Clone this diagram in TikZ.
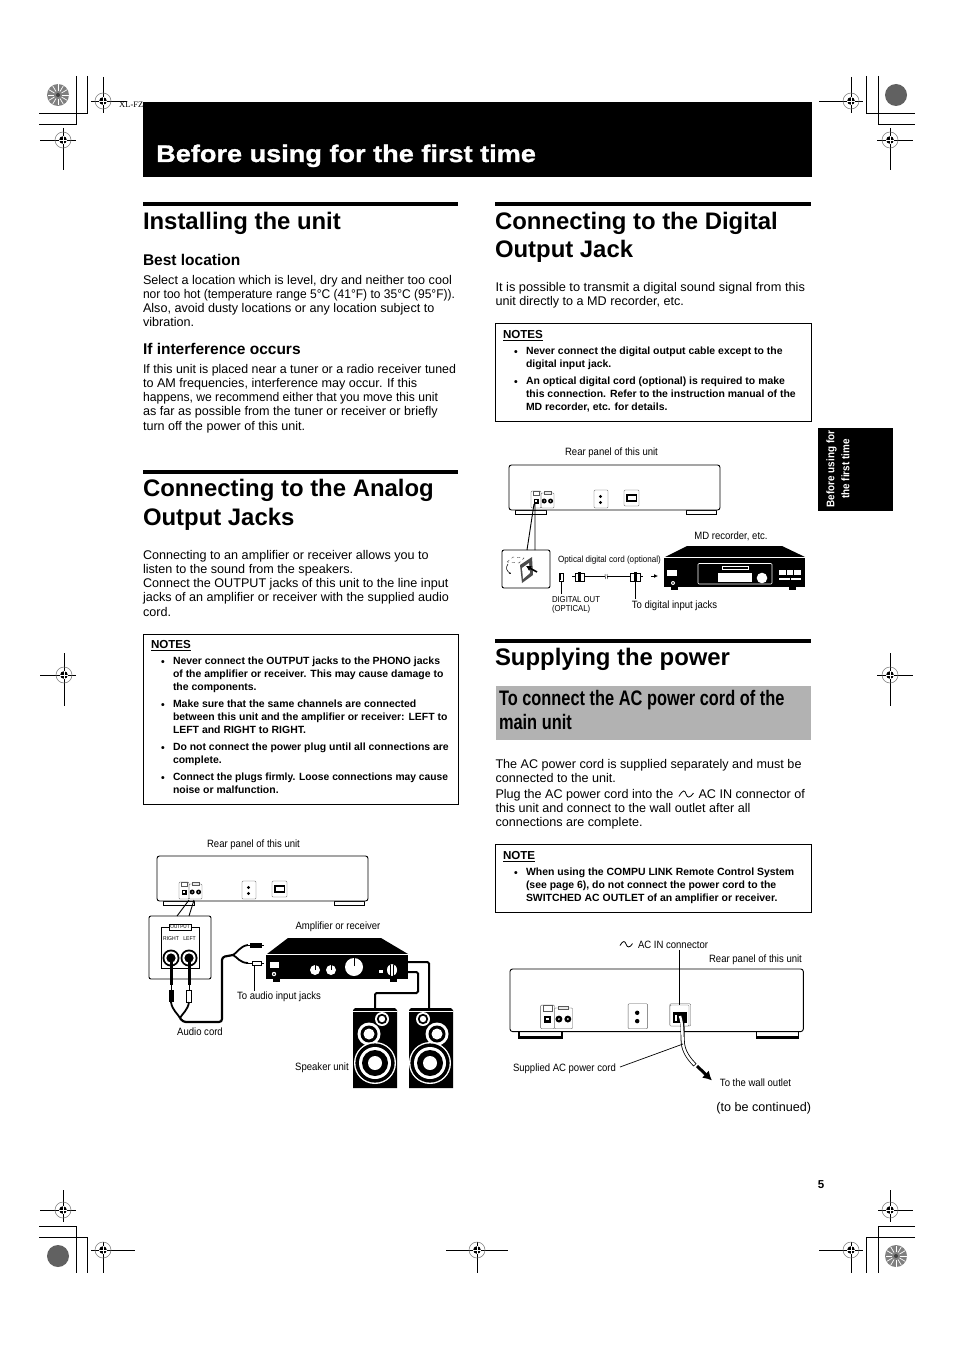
\documentclass[tikz,border=0pt]{standalone}
\usepackage{fontspec}
\usepackage{graphicx}
\usetikzlibrary{arrows.meta}
\setmainfont{Liberation Sans}
\newfontfamily\labfont[FakeStretch=0.9]{Liberation Sans}
\newfontfamily\condb[FakeStretch=0.78,UprightFont=* Bold]{Liberation Sans}
\newfontfamily\wideb[FakeStretch=1.13,FakeBold=1.2,UprightFont=* Bold]{Liberation Sans}
\newcommand\fsz[2]{\fontsize{#1}{#2}\selectfont}
\tikzset{
 x=1pt,y=-1pt,
 txt/.style={inner sep=0pt,outer sep=0pt,anchor=north west,align=left},
 bodytxt/.style={txt,font=\fsz{12.6}{14.3}},
 notetxt/.style={txt,yshift=-0.8pt,font=\fsz{10.45}{13}\bfseries},
 bullettxt/.style={inner sep=0pt,yshift=-0.8pt,font=\fsz{10.45}{13}\bfseries},
 notehead/.style={txt,yshift=-0.8pt,font=\fsz{11.6}{13}\bfseries},
 secttl/.style={txt,font=\fsz{23.9}{28.8}\bfseries},
 subttl/.style={txt,font=\fsz{15.5}{16}\bfseries},
 lab/.style={inner sep=0pt,outer sep=0pt,font=\labfont\fsz{10.6}{9.5},align=left},
 rule/.style={fill=black,draw=none},
 thinbox/.style={draw=black,line width=0.7pt,fill=none},
 cross/.style={line width=0.8pt,black},
 leader/.style={line width=0.7pt,black},
 cordline/.style={line width=2pt,black},
 crop/.style={line width=0.9pt,black},
}
\newcommand\regmark[6]{% x y hleft hright vtop vbottom
 \draw[cross] (#1-#3,#2) -- (#1+#4,#2);
 \draw[cross] (#1,#2-#5) -- (#1,#2+#6);
 \draw[line width=0.5pt,black!55] (#1,#2) circle (8pt);
 \fill[black] (#1,#2) circle (3.8pt);
 \draw[line width=0.4pt,white] (#1-4,#2) -- (#1+4,#2) (#1,#2-4) -- (#1,#2+4);
}
\newcommand\platedisc[2]{%
 \fill[black!62] (#1,#2) circle (11pt);
}
\newcommand\gear[2]{%
 \fill[black!50] (#1,#2) circle (11pt);
 \foreach \a in {0,30,...,330}{\draw[white,line width=0.7pt] (#1,#2) ++(\a:4pt) -- ++(\a:6.5pt);}
 \fill[black!75] (#1,#2) circle (2pt);
}
\newcommand\rearpanel[3]{%
 \begin{scope}[shift={(#1,#2)},scale=#3]
 \fill[black] (6,45) rectangle (38,50);
 \fill[white] (7,45.5) rectangle (37,48.5);
 \fill[black] (177,45) rectangle (208,50);
 \fill[white] (178,45.5) rectangle (207,48.5);
 \draw[line width=0.9pt,rounded corners=2.5pt,fill=white] (0,0) rectangle (211,45);
 \draw[line width=0.35pt,black!65,rounded corners=1pt] (22,26) rectangle (32,43);
 \draw[line width=0.35pt,black!65,rounded corners=1pt] (32,28) rectangle (45,43);
 \draw[line width=0.35pt,black!65] (24,26) rectangle (30,30) (35,26.5) rectangle (42,29);
 \fill[black] (24.5,33.5) rectangle (29.5,38.5);
 \fill[white] (26,35) rectangle (28,37);
 \fill[black] (35.2,36) circle (2.5pt) (41.6,36) circle (2.5pt);
 \fill[white] (35.2,36) circle (0.7pt) (41.6,36) circle (0.7pt);
 \draw[line width=0.35pt,black!65,rounded corners=1pt] (85,25) rectangle (99,43);
 \fill[black] (91.5,31.5) circle (1.6pt) (91.5,37.5) circle (1.6pt);
 \draw[line width=0.35pt,black!65,rounded corners=1pt] (115,25) rectangle (130,41);
 \fill[black] (117,29) rectangle (128,37);
 \fill[white] (118.5,31) rectangle (126.5,35);
 \end{scope}
}
\newcommand\speaker[4]{% x0 tweeterx midx wooferx
 \fill[black] (#1,1010) -- (#1+2,1008) -- (#1+42,1008) -- (#1+44,1010) -- (#1+44,1088) -- (#1,1088) -- cycle;
 \draw[white,line width=0.4pt] (#1,1011) -- (#1+44,1011);
 \fill[white] (#2,1019) circle (7pt); \fill[black] (#2,1019) circle (5.2pt); \fill[white] (#2,1019) circle (3.2pt);
 \fill[white] (#3,1034) circle (11.5pt); \fill[black] (#3,1034) circle (8.5pt); \fill[white] (#3,1034) circle (5.5pt);
 \fill[white] (#4,1063) circle (21pt); \fill[black] (#4,1063) circle (19.6pt); \fill[white] (#4,1063) circle (16pt); \fill[black] (#4,1063) circle (13pt); \fill[white] (#4,1063) circle (7pt);
}
\begin{document}
\begin{tikzpicture}
\useasboundingbox (0,0) rectangle (954,1351);
\fill[white] (0,0) rectangle (954,1351);
% crop marks
\draw[crop] (76.5,76) -- (76.5,124) -- (39,124) (87,76) -- (87,113) -- (39,113);
\draw[crop] (866,76) -- (866,113) -- (915,113) (878.5,76) -- (878.5,124) -- (915,124);
\draw[crop] (39,1226) -- (76.5,1226) -- (76.5,1273) (39,1237) -- (87,1237) -- (87,1273);
\draw[crop] (915,1226) -- (878.5,1226) -- (878.5,1273) (915,1237) -- (866,1237) -- (866,1273);
\gear{58}{95}\platedisc{896}{95}\platedisc{58}{1256}\gear{896}{1256}
\regmark{103}{101}{12}{24}{24}{12}
\regmark{63}{140}{23}{13}{12}{30}
\regmark{851}{101}{32}{12}{24}{12}
\regmark{890}{140}{13}{23}{12}{30}
\regmark{63}{1210}{23}{13}{20}{12}
\regmark{890}{1210}{12}{23}{20}{12}
\regmark{103}{1250}{12}{32}{8}{23}
\regmark{851}{1250}{32}{12}{8}{23}
\regmark{477}{1250}{31}{31}{8}{23}
\regmark{64}{675}{24}{12}{22}{31}
\regmark{890}{675}{13}{23}{22}{31}
\node[inner sep=0pt,anchor=west,font=\fontspec{Liberation Serif}\fsz{8.5}{9}] (xl) at (119,105) {XL-FZ};
% title bar
\fill[black] (143,102) rectangle (812,177);
\node[inner sep=0pt,anchor=base west,text=white,font=\wideb\fsz{24}{28}] (title) at (156,162) {Before using for the first time};
% side tab
\fill[black] (818,428) rectangle (893,511);
\node[inner sep=0pt,rotate=90,text=white,align=center,font=\labfont\fsz{11}{15}\bfseries] (tab) at (838,469) {Before using for\\the first time};
% rules
\fill[rule] (143,202) rectangle (458,205.5);
\fill[rule] (495,202) rectangle (811,205.5);
\fill[rule] (143,470) rectangle (458,473.5);
\fill[rule] (495,639) rectangle (811,642.5);
% left column
\node[secttl] (h1) at (143,209) {\strut Installing the unit};
\node[subttl] (h1a) at (143,254) {\strut Best location};
\node[bodytxt] (p1) at (143,274) {\strut Select a location which is level, dry and neither too cool\\\resizebox{312pt}{\height}{nor too hot (temperature range 5°C (41°F) to 35°C (95°F)).}\\Also, avoid dusty locations or any location subject to\\vibration.};
\node[subttl] (h1b) at (143,343) {\strut If interference occurs};
\node[bodytxt] (p2) at (143,363) {\strut\resizebox{313pt}{\height}{If this unit is placed near a tuner or a radio receiver tuned}\\to AM frequencies, interference may occur. If this\\\resizebox{295pt}{\height}{happens, we recommend either that you move this unit}\\as far as possible from the tuner or receiver or briefly\\turn off the power of this unit.};
\node[secttl] (h2) at (143,476.5) {\strut Connecting to the Analog\\Output Jacks};
\node[bodytxt] (p3) at (143,549) {\strut Connecting to an amplifier or receiver allows you to\\listen to the sound from the speakers.\\Connect the OUTPUT jacks of this unit to the line input\\jacks of an amplifier or receiver with the supplied audio\\cord.};
\draw[thinbox] (143.5,634.5) rectangle (458.5,804);
\node[notehead] (n1) at (151,639) {\strut\underline{NOTES}};
\node[notetxt] (n1a) at (173,655) {\strut Never connect the OUTPUT jacks to the PHONO jacks\\of the amplifier or receiver. This may cause damage to\\the components.};
\node[notetxt] (n1b) at (173,698) {\strut Make sure that the same channels are connected\\between this unit and the amplifier or receiver: LEFT to\\LEFT and RIGHT to RIGHT.};
\node[notetxt] (n1c) at (173,741) {\strut Do not connect the power plug until all connections are\\complete.};
\node[notetxt] (n1d) at (173,771) {\strut\resizebox{275pt}{\height}{Connect the plugs firmly. Loose connections may cause}\\noise or malfunction.};
\node[bullettxt] (b1) at (163,662.5) {•};\node[bullettxt] (b2) at (163,705.5) {•};\node[bullettxt] (b3) at (163,748.5) {•};\node[bullettxt] (b4) at (163,778.5) {•};
% right column
\node[secttl] (h3) at (495,209) {\strut Connecting to the Digital\\Output Jack};
\node[bodytxt] (p4) at (495.5,281) {\strut\resizebox{309.5pt}{\height}{It is possible to transmit a digital sound signal from this}\\unit directly to a MD recorder, etc.};
\draw[thinbox] (495.5,323.5) rectangle (811.5,421);
\node[notehead] (n2) at (503,329) {\strut\underline{NOTES}};
\node[notetxt] (n2a) at (526,345) {\strut Never connect the digital output cable except to the\\digital input jack.};
\node[notetxt] (n2b) at (526,375) {\strut An optical digital cord (optional) is required to make\\this connection. Refer to the instruction manual of the\\MD recorder, etc. for details.};
\node[bullettxt] (b5) at (516,352.5) {•};\node[bullettxt] (b6) at (516,382.5) {•};
\node[secttl] (h4) at (495,645) {\strut Supplying the power};
\fill[black!30] (496,686) rectangle (811,740);
\node[txt,font=\condb\fsz{21}{24}] (h4a) at (499,689) {\strut To connect the AC power cord of the\\main unit};
\node[bodytxt] (p5) at (495.5,758) {\strut The AC power cord is supplied separately and must be\\connected to the unit.};
\node[bodytxt] (p5a) at (495.5,788) {\strut Plug the AC power cord into the\\this unit and connect to the wall outlet after all\\connections are complete.};
\node[bodytxt] (p5b) at (698.5,788) {\strut AC IN connector of};
\draw[line width=0.8pt] (679,796.5) .. controls (683,789) and (685,790) .. (686,794) .. controls (687,798) and (690,798.5) .. (693.5,793);
\draw[thinbox] (495.5,844.5) rectangle (811.5,912);
\node[notehead] (n3) at (503,850) {\strut\underline{NOTE}};
\node[notetxt] (n3a) at (526,866) {\strut When using the COMPU LINK Remote Control System\\(see page 6), do not connect the power cord to the\\SWITCHED AC OUTLET of an amplifier or receiver.};
\node[bullettxt] (b7) at (516,873.5) {•};
\node[bodytxt,anchor=north east] (cont) at (811,1101) {\strut (to be continued)};
\node[inner sep=0pt,font=\fsz{11.5}{13}\bfseries] (pg) at (821,1185) {5};
% ---------- analog diagram
\rearpanel{157}{856}{1}
\node[lab] (l1) at (253.5,845) {Rear panel of this unit};
\draw[line width=0.9pt,rounded corners=2pt,fill=white] (149,916) rectangle (211,979);
\coordinate (ia) at (177,916);\coordinate (ib) at (189,916);\coordinate (oa) at (189,900);\coordinate (ob) at (194,900);
\draw[leader,line width=0.9pt] (ia) -- (oa) (ib) -- (ob);
\draw[line width=0.5pt] (169,927) -- (161,927) -- (161,968) (161,968) -- (199,968) -- (199,927) -- (191,927);
\node[draw,line width=0.5pt,inner xsep=1.6pt,inner ysep=1pt,fill=white,font=\labfont\fsz{5.2}{6}] (ob1) at (180,927) {OUTPUT};
\node[lab,font=\labfont\fsz{5.6}{6}] (rt) at (171,939) {RIGHT};
\node[lab,font=\labfont\fsz{5.6}{6}] (lt) at (189.5,939) {LEFT};
\foreach \x in {171,189}{
 \fill[black] (\x,958) circle (8.5pt); \fill[white] (\x,958) circle (6.6pt); \fill[black] (\x,958) circle (4.6pt);
}
\draw[line width=3pt] (171,958) -- (171,985) (189,958) -- (189,985);
\draw[line width=0.5pt] (171,985) -- (171,990) (189,985) -- (189,990);
\fill[black] (168.5,990) rectangle (173.5,1002);
\draw[line width=0.6pt,fill=white] (186.5,990) rectangle (191.5,1002);
\coordinate (cjoin) at (180,1018);
\draw[line width=1.8pt,black] (171,1002) .. controls (172,1010) and (178,1014) .. (cjoin);
\draw[line width=1.8pt,black] (189,1002) .. controls (188,1010) and (182,1014) .. (cjoin);
\draw[line width=2.2pt,black,rounded corners=3pt] (cjoin) -- (183,1022) -- (222,1022) -- (222,957) -- (233,955);
\draw[line width=1.8pt,black] (233,955) .. controls (237,953) and (240,946) .. (248,945);
\draw[line width=1.8pt,black] (233,955) .. controls (237,957) and (240,963) .. (248,963);
\draw[line width=0.6pt] (248,945) -- (252,945) (248,963) -- (253,963) (261,963) -- (264,963) (262,945) -- (264,945);
\fill[black] (250,943) rectangle (262,947.5);
\draw[line width=0.6pt,fill=white] (252,961) rectangle (261,965.5);
\coordinate (t1) at (254.5,965.5);\coordinate (t2) at (254.5,991);
\draw[leader] (t1) -- (t2);
\node[lab] (l2) at (279,997) {To audio input jacks};
\node[lab] (l3) at (200,1032) {Audio cord};
% amp
\fill[black] (267,954) -- (288,938) -- (381,938) -- (408,954) -- cycle;
\fill[black] (266,954) rectangle (408,979);
\draw[white,line width=0.5pt] (266,954.5) -- (408,954.5);
\fill[black] (273,979) rectangle (280,982); \fill[black] (390,979) rectangle (397,982);
\fill[white] (270,962) rectangle (279,967.5);
\fill[white] (274,974) circle (2.2pt); \fill[black] (274,974) circle (1pt);
\fill[white] (315,970) circle (5pt) (331,970) circle (5pt) (354,967) circle (9pt);
\draw[black,line width=0.5pt] (315,970) -- (315,965) (331,970) -- (331,965) (354,966) -- (354,958);
\fill[white] (379,969.5) rectangle (382.5,973);
\fill[white] (392,970) ellipse (5pt and 6pt);
\draw[black,line width=1pt] (390.5,964.5) -- (390.5,975.5) (393.5,964.5) -- (393.5,975.5);
\node[lab] (l4) at (338,927) {Amplifier or receiver};
% speaker wires
\coordinate (wa) at (408,962);\coordinate (wb) at (408,972);
\draw[cordline,rounded corners=1.5pt] (wa) -- (429,962) -- (429,1010);
\draw[cordline,rounded corners=1.5pt] (wb) -- (418,972) -- (418,993) -- (375,993) -- (375,1010);
\speaker{353}{382}{369}{375}
\speaker{409}{423}{437}{430}
\node[lab] (l5) at (322,1067.5) {Speaker unit};
% ---------- digital diagram
\rearpanel{509}{465}{1}
\node[lab] (l6) at (611.5,453) {Rear panel of this unit};
\draw[line width=0.9pt,rounded corners=2pt,fill=white] (502,550) rectangle (550,588);
\coordinate (da) at (527,550);\coordinate (db) at (535,550);\coordinate (dc) at (534,504);\coordinate (dd) at (535,504);
\draw[line width=0.9pt] (da) -- (dc) (db) -- (dd);
% optical jack sketch
\draw[line width=0.4pt,black!70,dashed] (507,562) -- (513,557) -- (524,558) -- (519,563) -- cycle;
\fill[black!70] (520,565) -- (532,557) -- (533,575) -- (522,583) -- cycle;
\fill[white] (522,568) -- (529,563) -- (530,573) -- (523,579) -- cycle;
\draw[line width=1.6pt,-{Latex[length=5pt,width=6pt]}] (537,572) -- (526,566);
\draw[line width=0.5pt,-{Latex[length=2pt,width=2pt]}] (508,564) .. controls (505,568) and (507,571) .. (511,574);
\draw[line width=0.6pt,fill=white] (559,573) rectangle (563.5,581);
\fill[black] (560,574) rectangle (561,580);
\coordinate (p1a) at (561,581);\coordinate (p1b) at (561,593.5);
\draw[leader] (p1a) -- (p1b);
\draw[line width=0.7pt,fill=white] (575,573.5) rectangle (584,581);
\fill[black] (578,572) rectangle (581,582);
\draw[line width=0.7pt] (572,576.5) -- (575,576.5);
\draw[line width=1.6pt] (584,576.5) -- (630,576.5);
\draw[line width=0.7pt,fill=white] (630,573.5) rectangle (640,581);
\fill[black] (634,572) rectangle (637,582);
\draw[line width=0.7pt] (640,576.5) -- (643,576.5);
\fill[white] (605,575) rectangle (607,578);
\draw[line width=0.4pt] (605,574) -- (605.5,579) (607,574) -- (607.5,579);
\coordinate (p2a) at (635,581);\coordinate (p2b) at (635,599);
\draw[leader] (p2a) -- (p2b);
\draw[line width=1pt,-{Latex[length=4pt,width=4pt]}] (651,576) -- (658,576);
\node[lab,font=\labfont\fsz{9}{9}] (l7) at (609.5,560.5) {Optical digital cord (optional)};
\node[lab,anchor=north west,font=\labfont\fsz{8.6}{9.2}] (l8) at (552,596) {DIGITAL OUT\\(OPTICAL)};
\node[lab] (l9) at (674.5,605.5) {To digital input jacks};
\node[lab] (l10) at (731,536) {MD recorder, etc.};
% md recorder
\fill[black] (665,557) -- (687,546) -- (782,546) -- (805,557) -- cycle;
\fill[black] (664,557) rectangle (805,587);
\draw[white,line width=0.5pt] (664,557.5) -- (805,557.5);
\fill[black] (671,587) rectangle (678,590); \fill[black] (789,587) rectangle (796,590);
\draw[white,line width=0.6pt,rounded corners=1pt] (698,563.5) rectangle (772,584);
\draw[white,line width=0.6pt] (722,566) rectangle (748,569.5);
\fill[white] (718,573) rectangle (752,582);
\fill[white] (762,578) circle (5.3pt);
\fill[white] (667,570) rectangle (677,576);
\fill[white] (673,583) circle (2pt); \fill[black] (673,583) circle (0.8pt);
\fill[white] (779,570) rectangle (801,575);
\draw[black,line width=0.7pt] (786,570) -- (786,575) (793.5,570) -- (793.5,575);
\fill[white] (779,577.5) rectangle (801,579.5);
\draw[black,line width=0.7pt] (790,577) -- (790,580);
% ---------- power diagram
\rearpanel{510}{969}{1.39}
\node[lab,anchor=west] (l11) at (638,945) {AC IN connector};
\draw[line width=0.8pt] (620,945.5) .. controls (623,940) and (625,941) .. (626,944) .. controls (627,948) and (630,948) .. (632.5,943.5);
\coordinate (acT) at (679,950);\coordinate (acB) at (679,1005);
\node[lab] (l12) at (755.5,959.5) {Rear panel of this unit};
\draw[leader] (acT) -- (acB);
\fill[white] (670,1005) rectangle (689,1026);
\draw[line width=0.35pt,black!65,rounded corners=1pt] (670,1005) rectangle (689,1026);
\fill[black] (672.5,1012) rectangle (686.5,1023);
\coordinate (cA) at (682,1017);\coordinate (cB) at (683,1044);\coordinate (cC) at (695,1065);
\draw[line width=4pt,black] (cA) .. controls (683,1025) and (682,1035) .. (cB) .. controls (684,1052) and (689,1059) .. (cC);
\draw[line width=2.4pt,white] (680,1016) ..controls (683,1025) and (682,1035) .. (cB) .. controls (684,1052) and (689,1059) .. (694.5,1064.5);
\fill[white] (675,1014.5) rectangle (677,1021);
\node[lab,anchor=west] (l13) at (513,1068.5) {Supplied AC power cord};
\coordinate (s1) at (620,1067);
\draw[leader] (s1) -- (cB);
\draw[line width=3pt,-{Latex[length=9pt,width=10pt]}] (697,1066) -- (712,1080.5);
\node[lab] (l14) at (755.5,1082.5) {To the wall outlet};
\end{tikzpicture}
\end{document}
